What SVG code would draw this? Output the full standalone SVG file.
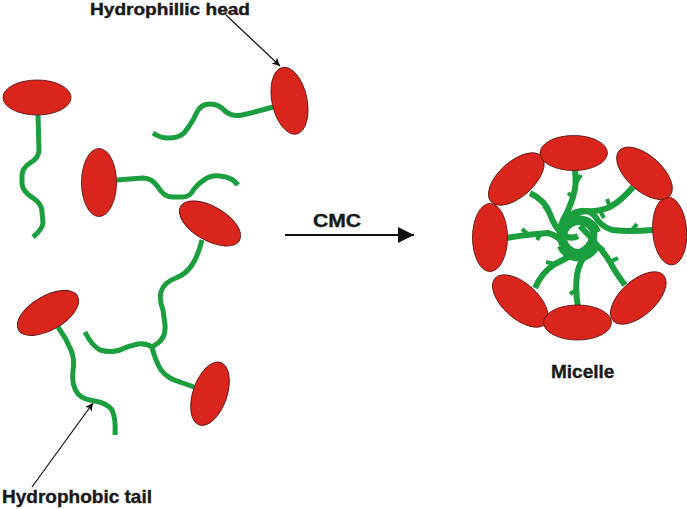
<svg xmlns="http://www.w3.org/2000/svg" width="687" height="509" viewBox="0 0 687 509">
<defs>
<style>
.head{fill:#da251d;stroke:#5e1712;stroke-width:0.9}
.tail{fill:none;stroke:#1a9e3e;stroke-width:5;stroke-linejoin:round;stroke-linecap:butt}
.mt{fill:none;stroke:#1a9e3e;stroke-width:6;stroke-linejoin:round;stroke-linecap:butt}
.sp{fill:none;stroke:#1a9e3e;stroke-width:4;stroke-linecap:butt}
.lbl{font-family:"Liberation Sans",Arial,sans-serif;font-weight:bold;font-size:19px;fill:#1a1a1a;stroke:#1a1a1a;stroke-width:0.4}
.ptr{stroke:#111;stroke-width:1.2;fill:none}
</style>
<marker id="ah" viewBox="0 0 10 10" refX="10" refY="5" markerWidth="10" markerHeight="8" markerUnits="userSpaceOnUse" orient="auto">
<path d="M0,0 L10,5 L0,10 L2.5,5 Z" fill="#111"/>
</marker>
<marker id="ahb" viewBox="0 0 10 10" refX="10" refY="5" markerWidth="17" markerHeight="16" markerUnits="userSpaceOnUse" orient="auto">
<path d="M0,0 L10,5 L0,10 Z" fill="#111"/>
</marker>
</defs>

<g id="molecule-1">
<path class="tail" d="M38,115 L39,150 Q39,158 30,163 Q22,168 22,176 L22,184 Q23,192 33,198 Q42,204 42,212 L43,223 Q42,230 33,237"/>
<ellipse class="head" cx="37" cy="97.5" rx="34" ry="17.5"/>
</g>

<g id="molecule-2">
<path class="tail" d="M273,107 Q255,112 242,115 Q232,117 225,111 Q219,104 210,104 Q201,104 197,112 L193,120 Q189,127 184,133 Q179,138 168,138 Q160,138 153,133"/>
<ellipse class="head" cx="289.5" cy="100.7" rx="17.5" ry="34" transform="rotate(-12 289.5 100.7)"/>
</g>

<g id="molecule-3">
<path class="tail" d="M117,180 L143,178 Q152,178 158,187 Q164,197 172,197 L183,197 Q190,197 194,189 Q199,183 204,180 Q210,175 220,176 Q232,177 238,185"/>
<ellipse class="head" cx="99" cy="182.5" rx="17.5" ry="34"/>
</g>

<g id="molecule-4">
<path class="tail" d="M202,240 Q198,256 192,265 Q186,274 176,278 Q164,282 161,292 Q159,300 163,310 L165,325 Q166,337 158,343 L152,347 Q146,343 138,344 Q128,346 120,350 Q110,353 100,350 Q92,346 85,332"/>
<ellipse class="head" cx="210" cy="223.5" rx="34" ry="17" transform="rotate(30 210 223.5)"/>
</g>

<g id="molecule-5">
<path class="tail" d="M152,347 Q155,360 161,370 Q168,379 180,382 L194,387"/>
<ellipse class="head" cx="210" cy="393.7" rx="17" ry="33" transform="rotate(19 210 393.7)"/>
</g>

<g id="molecule-6">
<path class="tail" d="M58,327 Q66,338 71,350 Q75,360 73,370 Q71,385 78,394 Q84,400 95,401 Q107,403 112,410 Q116,418 115,435"/>
<ellipse class="head" cx="48" cy="313" rx="34" ry="17" transform="rotate(-30 48 313)"/>
</g>

<g id="micelle">
<g id="micelle-tails">
<path class="mt" d="M575,170 Q577,185 573,197 Q569,210 563,220 Q557,232 562,245"/>
<path class="mt" d="M530,193 Q545,200 550,214 Q554,226 562,234 Q570,240 578,236"/>
<path class="mt" d="M507,238 Q530,234 548,233 Q560,236 566,248 Q572,257 586,256"/>
<path class="mt" d="M535,288 Q542,272 555,264 Q568,257 580,252 Q590,247 592,238"/>
<path class="mt" d="M578,307 Q575,290 577,275 Q579,262 588,252 Q596,242 594,228"/>
<path class="mt" d="M625,285 Q615,272 610,262 Q604,252 597,245 Q590,236 580,226"/>
<path class="mt" d="M653,230 Q630,232 612,230 Q600,226 595,216 Q588,208 576,212 Q566,216 562,228"/>
<path class="mt" d="M633,187 Q622,200 610,207 Q598,212 586,211 Q574,212 568,222"/>
<circle class="mt" cx="579" cy="237" r="15" stroke-width="5"/>
<path class="mt" d="M561,230 A20,20 0 0 1 598,232" stroke-width="4.5"/>
<path class="mt" d="M597,246 A20,20 0 0 1 560,246" stroke-width="4.5"/>
<path class="sp" d="M576,183 L581,175 M550,214 L544,206 M529,235 L522,229 M555,264 L546,262 M576,290 L570,294 M610,262 L618,258 M631,231 L637,224 M610,207 L607,199 M573,197 L568,193 M597,245 L604,250 M541,233 L537,240 M600,211 L604,218"/>
</g>
<g id="micelle-heads">
<ellipse class="head" cx="516.3" cy="179" rx="34" ry="17.5" transform="rotate(-42 516.3 179)"/>
<ellipse class="head" cx="490" cy="237.5" rx="17.5" ry="34"/>
<ellipse class="head" cx="520.3" cy="301" rx="34" ry="17.5" transform="rotate(42 520.3 301)"/>
<ellipse class="head" cx="638.3" cy="298" rx="34" ry="17.5" transform="rotate(-42 638.3 298)"/>
<ellipse class="head" cx="669.7" cy="231" rx="17" ry="34" transform="rotate(-4 669.7 231)"/>
<ellipse class="head" cx="644.5" cy="173.3" rx="34" ry="17.5" transform="rotate(42 644.5 173.3)"/>
<ellipse class="head" cx="573.7" cy="153" rx="33.7" ry="17.5"/>
<ellipse class="head" cx="577.5" cy="322.5" rx="34" ry="17.5"/>
</g>
</g>

<g id="connectors">
<line class="ptr" x1="226" y1="15" x2="280" y2="66" marker-end="url(#ah)"/>
<line class="ptr" x1="32" y1="487" x2="93" y2="403" marker-end="url(#ah)"/>
<line x1="285" y1="235" x2="414" y2="235" stroke="#111" stroke-width="2" marker-end="url(#ahb)"/>
</g>

<g id="labels">
<text class="lbl" x="90" y="14.5" style="font-size:16px" textLength="160" lengthAdjust="spacingAndGlyphs">Hydrophillic head</text>
<text class="lbl" x="2" y="503" textLength="150" lengthAdjust="spacingAndGlyphs">Hydrophobic tail</text>
<text class="lbl" x="313" y="227" textLength="48" lengthAdjust="spacingAndGlyphs">CMC</text>
<text class="lbl" x="551" y="378">Micelle</text>
</g>
</svg>
